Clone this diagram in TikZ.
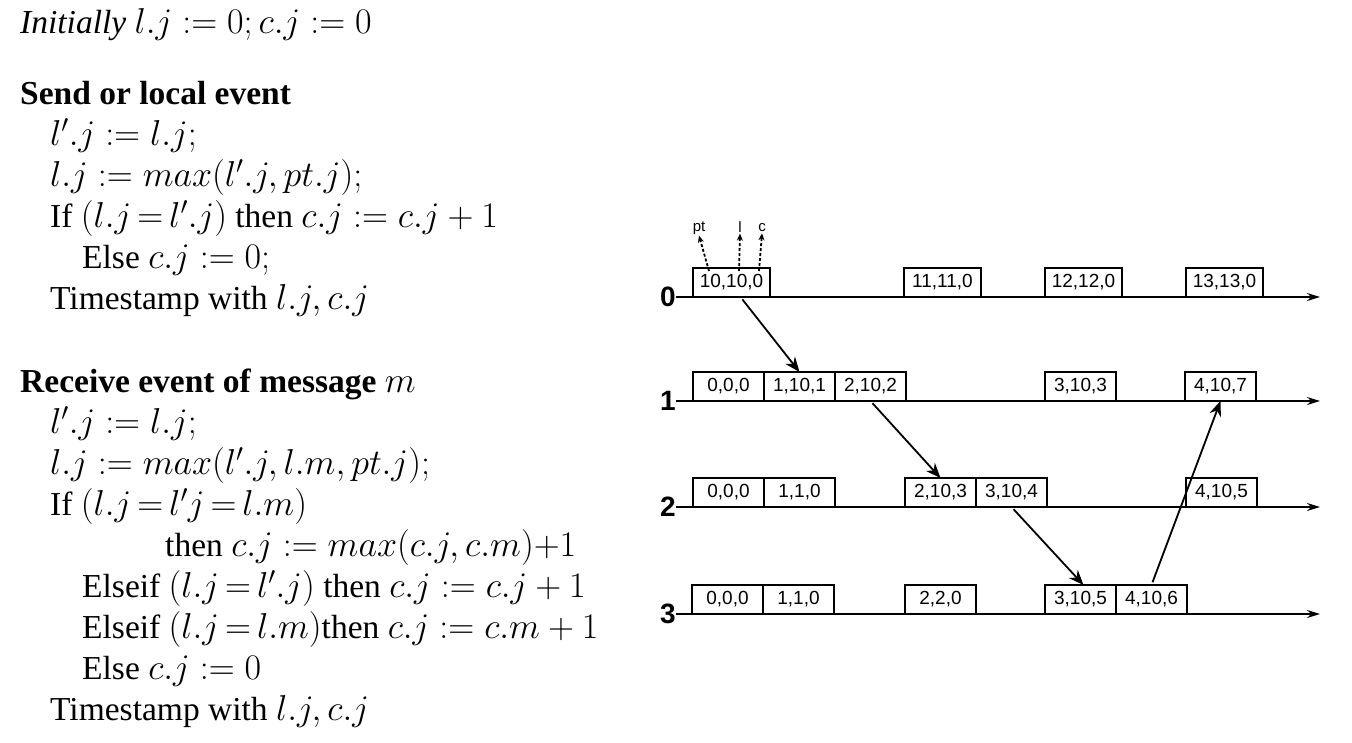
\documentclass[tikz,border=0pt]{standalone}
\usepackage{fix-cm}
\usepackage[no-math]{fontspec}
\setmainfont{Liberation Serif}
\setsansfont{Liberation Sans}
\DeclareMathSizes{33.5}{36}{25}{18}
\usepackage{tikz}
\usetikzlibrary{arrows.meta,positioning}

\begin{document}
\begin{tikzpicture}[x=1pt,y=-1pt,
    algo/.style={inner sep=0pt,align=left,font=\fontsize{33.5}{41}\selectfont},
    stamp/.style={draw,line width=1.4pt,inner sep=0pt,outer sep=0pt,
                  minimum width=71pt,minimum height=29pt,
                  font=\fontsize{19}{22}\sffamily},
    wide/.style={stamp,minimum width=77pt},
    proc/.style={inner sep=0pt,font=\fontsize{28}{30}\sffamily\bfseries},
    tag/.style={inner sep=1pt,font=\fontsize{15}{16}\sffamily},
    axis/.style={line width=1.8pt,-{Stealth[length=13pt,width=8pt]}},
    msg/.style={line width=1.8pt,shorten <=3pt,-{Stealth[length=15pt,width=12pt]}},
    ptr/.style={line width=1.8pt,dash pattern=on 3pt off 2pt,-{Stealth[length=7pt,width=6pt]}}]
  \useasboundingbox (0,0) rectangle (1352,742);

  % algorithm
  \node[algo,anchor=north west] (alg) at (20,8) {%
    \textit{Initially} $l.j := 0; c.j := 0$\\[30pt]
    \textbf{Send or local event}\\
    \hspace*{30pt}$l'.j := l.j;$\\
    \hspace*{30pt}$l.j := max(l'.j, pt.j);$\\
    \hspace*{30pt}If $(l.j\,{=}\,l'.j)$ then $c.j := c.j + 1$\\
    \hspace*{62pt}Else $c.j := 0;$\\
    \hspace*{30pt}Timestamp with $l.j, c.j$\\[42pt]
    \textbf{Receive event of message} $m$\\
    \hspace*{30pt}$l'.j := l.j;$\\
    \hspace*{30pt}$l.j := max(l'.j, l.m, pt.j);$\\
    \hspace*{30pt}If $(l.j\,{=}\,l'j\,{=}\,l.m)$\\
    \hspace*{145pt}then $c.j := max(c.j, c.m){+}1$\\
    \hspace*{62pt}Elseif $(l.j\,{=}\,l'.j)$ then $c.j := c.j + 1$\\
    \hspace*{62pt}Elseif $(l.j\,{=}\,l.m)$then $c.j := c.m + 1$\\
    \hspace*{62pt}Else $c.j := 0$\\
    \hspace*{30pt}Timestamp with $l.j, c.j$};

  % process lines
  \foreach \i/\y in {0/297,1/401,2/507,3/614}{
    \node[proc,anchor=east] (l\i) at (676,\y) {\i};
    \coordinate (e\i) at (1320,\y);
    \draw[axis] (l\i.east) -- (e\i);
  }

  % process 0
  \node[wide,anchor=south west] (p0a) at (693,297) {10,10,0};
  \node[wide,anchor=south west] (p0b) at (904,297) {11,11,0};
  \node[wide,anchor=south west] (p0c) at (1045,297) {12,12,0};
  \node[wide,anchor=south west] (p0d) at (1186,297) {13,13,0};

  % process 1
  \node[stamp,anchor=south west] (p1a) at (693,401) {0,0,0};
  \node[stamp,right=0pt of p1a] (p1b) {1,10,1};
  \node[stamp,right=0pt of p1b] (p1c) {2,10,2};
  \node[stamp,anchor=south west] (p1d) at (1045,401) {3,10,3};
  \node[stamp,anchor=south west] (p1e) at (1185,401) {4,10,7};

  % process 2
  \node[stamp,anchor=south west] (p2a) at (693,507) {0,0,0};
  \node[stamp,right=0pt of p2a] (p2b) {1,1,0};
  \node[stamp,anchor=south west] (p2c) at (905,507) {2,10,3};
  \node[stamp,right=0pt of p2c] (p2d) {3,10,4};
  \node[stamp,anchor=south west] (p2e) at (1186,507) {4,10,5};

  % process 3
  \node[stamp,anchor=south west] (p3a) at (692,614) {0,0,0};
  \node[stamp,right=0pt of p3a] (p3b) {1,1,0};
  \node[stamp,anchor=south west] (p3c) at (905,614) {2,2,0};
  \node[stamp,anchor=south west] (p3d) at (1045,614) {3,10,5};
  \node[stamp,right=0pt of p3d] (p3e) {4,10,6};

  % fields of a timestamp
  \node[tag] (pt) at (699,228) {pt};
  \node[tag] (lv) at (740,227) {l};
  \node[tag] (cv) at (762,228) {c};
  \draw[ptr] ([xshift=16pt,yshift=-3pt]p0a.north west) -- (pt.south);
  \draw[ptr] ([xshift=46pt,yshift=-3pt]p0a.north west) -- (lv.south);
  \draw[ptr] ([xshift=66pt,yshift=-3pt]p0a.north west) -- (cv.south);

  % messages
  \draw[msg] ([xshift=9pt]p0a.south) -- (p1b.north);
  \draw[msg] (p1c.south) -- (p2c.north);
  \draw[msg] (p2d.south) -- ([xshift=3pt]p3d.north);
  \draw[msg] (p3e.north) -- (p1e.south);
\end{tikzpicture}
\end{document}
